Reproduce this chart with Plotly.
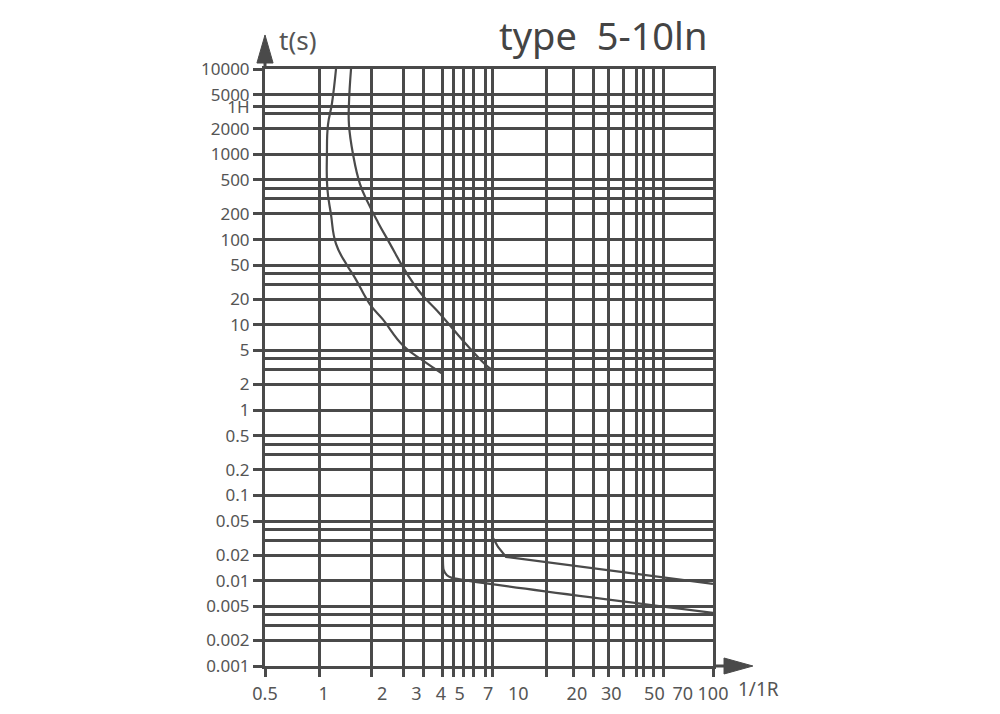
import plotly.graph_objects as go

# axis labels and grid positions
x_labels = [0.5, 1, 2, 3, 4, 5, 7, 10, 20, 30, 50, 70, 100]
x_grid = [0.5, 0.95, 1.77, 2.56, 3.24, 4.1, 4.62, 5.26, 5.92, 6.75, 7.33,
          14.0, 19.1, 24.2, 28.9, 34.9, 40.7, 43.7, 49.2, 55.4, 100]

y_labels = [10000, 5000, 3600, 2000, 1000, 500, 200, 100, 50, 20, 10, 5, 2, 1,
            0.5, 0.2, 0.1, 0.05, 0.02, 0.01, 0.005, 0.002, 0.001]
y_label_text = ["10000", "5000", "1H", "2000", "1000", "500", "200", "100", "50",
                "20", "10", "5", "2", "1", "0.5", "0.2", "0.1", "0.05", "0.02",
                "0.01", "0.005", "0.002", "0.001"]
y_grid_extra = [3000, 400, 300, 40, 30, 4, 3, 0.4, 0.3, 0.04, 0.03, 0.004, 0.003]

# tripping curves (multiples of rated current vs time)
upper_thermal_x = [1.383, 1.35, 1.35, 1.416, 1.538, 1.69, 1.903, 2.193, 2.557, 2.88,
                   3.24, 3.82, 4.57, 5.65, 6.99, 7.33]
upper_thermal_y = [10000, 3970, 2213, 1000, 447, 271, 159, 89, 47.5, 31,
                   21.8, 14.7, 9.2, 5.28, 3.22, 3.0]

lower_thermal_x = [1.158, 1.104, 1.053, 1.04, 1.045, 1.09, 1.158, 1.319, 1.449, 1.73,
                   2.02, 2.557, 3.24, 4.06]
lower_thermal_y = [10000, 3970, 2213, 1000, 400, 200, 89, 50, 35.6, 17.4,
                   11.5, 5.74, 3.81, 2.69]

upper_magnetic_x = [7.3, 7.87, 8.65, 100]
upper_magnetic_y = [0.0338, 0.0249, 0.019, 0.0092]

lower_magnetic_x = [4.1, 4.13, 4.3, 4.56, 100]
lower_magnetic_y = [0.0175, 0.0135, 0.0116, 0.0108, 0.0042]

ink = "#4a4a4a"
font = "Noto Sans"

fig = go.Figure()

curve = dict(color=ink, width=2.2)
fig.add_trace(go.Scatter(x=upper_thermal_x, y=upper_thermal_y, mode="lines",
                         line=dict(shape="spline", smoothing=1.3, **curve)))
fig.add_trace(go.Scatter(x=lower_thermal_x, y=lower_thermal_y, mode="lines",
                         line=dict(shape="spline", smoothing=1.3, **curve)))
fig.add_trace(go.Scatter(x=upper_magnetic_x, y=upper_magnetic_y, mode="lines", line=curve))
fig.add_trace(go.Scatter(x=lower_magnetic_x, y=lower_magnetic_y, mode="lines",
                         line=dict(shape="spline", smoothing=0.5, **curve)))

fig.update_xaxes(
    type="log", range=[-0.30103, 2],
    tickmode="array", tickvals=x_labels, ticktext=[str(v) for v in x_labels],
    ticks="outside", ticklen=9, tickcolor="rgba(0,0,0,0)",
    showgrid=False, zeroline=False,
    showline=True, linecolor=ink, linewidth=3, mirror=True,
    tickfont=dict(family=font, size=18, color="#555"),
    minor=dict(tickmode="array", tickvals=x_grid, ticks="outside", ticklen=8,
               tickwidth=2.5, tickcolor=ink, showgrid=True, gridcolor=ink, gridwidth=2.6),
)
fig.update_yaxes(
    type="log", range=[-3, 4],
    tickmode="array", tickvals=y_labels, ticktext=y_label_text,
    ticks="outside", ticklen=9, tickwidth=2.5, tickcolor=ink,
    showgrid=True, gridcolor=ink, gridwidth=2.6, zeroline=False,
    showline=True, linecolor=ink, linewidth=3, mirror=True,
    tickfont=dict(family=font, size=17, color="#555"),
    minor=dict(tickmode="array", tickvals=y_grid_extra, ticks="",
               showgrid=True, gridcolor=ink, gridwidth=2.6),
)

# arrow heads on the axes
fig.add_shape(type="line", xref="paper", yref="paper", x0=0, x1=0, y0=1, y1=1.02,
              line=dict(color=ink, width=3))
fig.add_shape(type="path", xref="paper", yref="paper",
              path="M -0.018 1.010 L 0.018 1.010 L 0 1.057 Z",
              fillcolor=ink, line=dict(color=ink, width=1))
fig.add_shape(type="line", xref="paper", yref="paper", x0=1, x1=1.03, y0=0, y1=0,
              line=dict(color=ink, width=3))
fig.add_shape(type="path", xref="paper", yref="paper",
              path="M 1.0246 0.0134 L 1.0246 -0.0134 L 1.089 0 Z",
              fillcolor=ink, line=dict(color=ink, width=1))

fig.add_annotation(text="type\u00a0\u00a05-10ln", xref="paper", yref="paper",
                   x=0.754, y=1.057, xanchor="center", yanchor="middle", showarrow=False,
                   font=dict(family=font, size=38, color="#444"))
fig.add_annotation(text="t(s)", xref="paper", yref="paper",
                   x=0.027, y=1.049, xanchor="left", yanchor="middle", showarrow=False,
                   font=dict(family=font, size=26, color="#555"))
fig.add_annotation(text="1/1R", xref="paper", yref="paper",
                   x=1.052, y=-0.0385, xanchor="left", yanchor="middle", showarrow=False,
                   font=dict(family=font, size=19, color="#555"))

# the page body adds an 8px offset, so margins are shifted to compensate
fig.update_layout(
    width=1000, height=714,
    margin=dict(l=257, r=295, t=61, b=56),
    plot_bgcolor="white", paper_bgcolor="white",
    showlegend=False,
)

fig.write_html("out.html")
